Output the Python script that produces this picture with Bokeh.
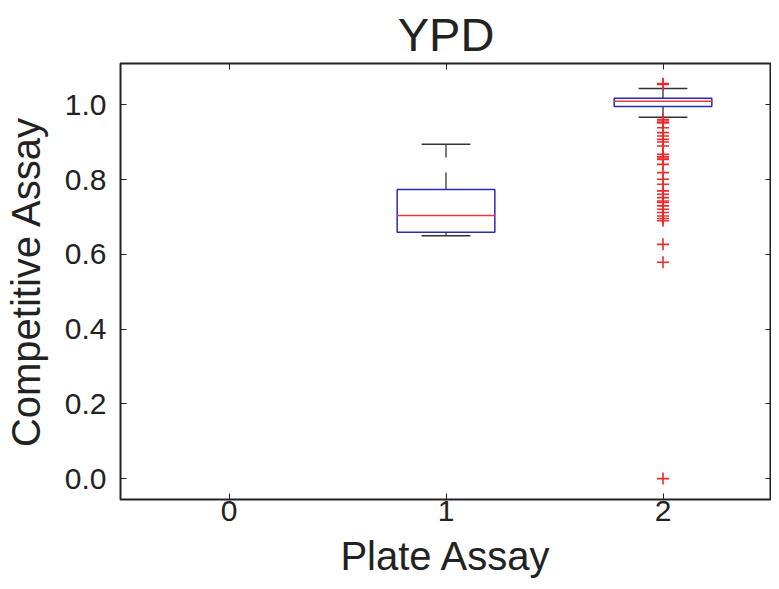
from bokeh.plotting import figure
from bokeh.models import LinearAxis, FixedTicker, Range1d, ColumnDataSource, PrintfTickFormatter
from bokeh.transform import dodge
from bokeh.embed import file_html
from bokeh.resources import INLINE

# ---- data ----
title_text = "YPD"
x_label = "Plate Assay"
y_label = "Competitive Assay"
x_ticks = [0, 1, 2]
y_ticks = [0.0, 0.2, 0.4, 0.6, 0.8, 1.0]

box_pos = [1, 2]
q1 = [0.659, 0.996]
median = [0.704, 1.010]
q3 = [0.774, 1.018]
whisk_lo = [0.650, 0.967]
whisk_hi = [0.895, 1.044]

outlier_pos = 2
outlier_vals = [1.057, 1.055, 0.961, 0.957, 0.952, 0.939, 0.926, 0.917, 0.908,
                0.901, 0.890, 0.868, 0.862, 0.858, 0.854, 0.841, 0.819, 0.801,
                0.788, 0.770, 0.761, 0.752, 0.743, 0.739, 0.730, 0.721, 0.712,
                0.703, 0.696, 0.690, 0.627, 0.579, 0.0]

BOX_W = 0.45
CAP_W = 0.225
FONT = "Liberation Sans"
INK = "#222222"

p = figure(width=771, height=588, output_backend="svg", toolbar_location=None,
           x_range=Range1d(-0.5, 2.5), y_range=Range1d(-0.056, 1.111),
           min_border_left=118, min_border_right=0, min_border_top=63,
           min_border_bottom=89, title=title_text)
p.grid.visible = False
p.outline_line_color = INK
p.outline_line_width = 2

p.title.align = "center"
p.title.text_font = FONT
p.title.text_font_size = "47px"
p.title.text_font_style = "normal"
p.title.text_color = INK
p.title.standoff = 6

box_src = ColumnDataSource(dict(x=box_pos, q1=q1, q2=median, q3=q3,
                                lo=whisk_lo, hi=whisk_hi))

# whiskers
p.segment(x0="x", y0="q3", x1="x", y1="hi", source=box_src, line_color=INK,
          line_width=1.2, line_dash="17 15")
p.segment(x0="x", y0="q1", x1="x", y1="lo", source=box_src, line_color=INK,
          line_width=1.2, line_dash="17 15")
# caps
for key in ("hi", "lo"):
    p.segment(x0=dodge("x", -CAP_W / 2), y0=key, x1=dodge("x", CAP_W / 2), y1=key,
              source=box_src, line_color="#333333", line_width=1.6)
# boxes
p.vbar(x="x", width=BOX_W, bottom="q1", top="q3", source=box_src,
       fill_color=None, line_color="#2a2ab4", line_width=1.5)
# medians
p.segment(x0=dodge("x", -BOX_W / 2), y0="q2", x1=dodge("x", BOX_W / 2), y1="q2",
          source=box_src, line_color="#e8383d", line_width=1.5)
# outliers
p.scatter(x=[outlier_pos] * len(outlier_vals), y=outlier_vals, marker="cross",
          size=12, line_color="#ee2a2a", line_width=1.6)


def style(ax, labels=True):
    ax.major_tick_in = 6
    ax.major_tick_out = 0
    ax.minor_tick_line_color = None
    ax.axis_line_color = None
    ax.major_tick_line_color = INK
    ax.major_tick_line_width = 1
    if labels:
        ax.major_label_text_font = FONT
        ax.major_label_text_font_size = "30px"
        ax.major_label_text_color = INK
        ax.axis_label_text_font = FONT
        ax.axis_label_text_font_size = "40px"
        ax.axis_label_text_font_style = "normal"
        ax.axis_label_text_color = INK
    else:
        ax.formatter = PrintfTickFormatter(format="")
        ax.major_label_text_font_size = "0px"
        ax.major_label_text_color = None
        ax.major_label_standoff = 0
        ax.axis_label_standoff = 0


xa = p.xaxis[0]
xa.ticker = FixedTicker(ticks=x_ticks)
xa.axis_label = x_label
xa.major_label_standoff = 1
xa.axis_label_standoff = 10
style(xa)

ya = p.yaxis[0]
ya.ticker = FixedTicker(ticks=y_ticks)
ya.formatter = PrintfTickFormatter(format="%.1f")
ya.axis_label = y_label
ya.major_label_standoff = 14
ya.axis_label_standoff = 14
style(ya)

ra = LinearAxis(ticker=FixedTicker(ticks=y_ticks))
style(ra, labels=False)
p.add_layout(ra, "right")
ta = LinearAxis(ticker=FixedTicker(ticks=x_ticks))
style(ta, labels=False)
p.add_layout(ta, "above")

open("out.html", "w").write(file_html(p, INLINE))
